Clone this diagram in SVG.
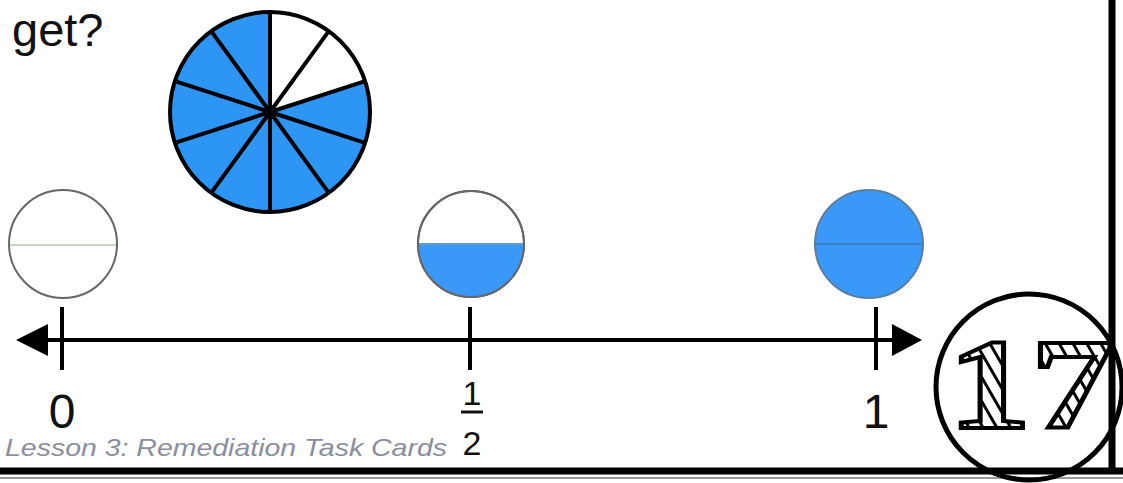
<svg xmlns="http://www.w3.org/2000/svg" width="1123" height="483" viewBox="0 0 1123 483">
<style>
.blk{stroke:#000;fill:none}
.num{font-family:"Liberation Sans",Arial,sans-serif;fill:#111;text-anchor:middle}
.small{stroke:#666;stroke-width:2}
</style>
<defs>
<pattern id="hatch" width="12" height="12" patternUnits="userSpaceOnUse" patternTransform="rotate(-30)">
<rect width="12" height="12" fill="#fff"/>
<line x1="0" y1="0" x2="0" y2="12" stroke="#000" stroke-width="6"/>
</pattern>
</defs>
<rect width="1123" height="483" fill="#fff"/>
<text x="12" y="46" font-family="Liberation Sans, Arial, sans-serif" font-size="47" fill="#111">get?</text>

<g id="pie">
<circle cx="270" cy="112" r="100" fill="#2d96f4"/>
<path d="M270,112 L270,12 A100,100 0 0 1 365.11,81.10 Z" fill="#fff"/>
<g class="blk" stroke-width="4">
<line x1="270" y1="112" x2="270" y2="12"/>
<line x1="270" y1="112" x2="328.78" y2="31.10"/>
<line x1="270" y1="112" x2="365.11" y2="81.10"/>
<line x1="270" y1="112" x2="365.11" y2="142.90"/>
<line x1="270" y1="112" x2="328.78" y2="192.90"/>
<line x1="270" y1="112" x2="270" y2="212"/>
<line x1="270" y1="112" x2="211.22" y2="192.90"/>
<line x1="270" y1="112" x2="174.89" y2="142.90"/>
<line x1="270" y1="112" x2="174.89" y2="81.10"/>
<line x1="270" y1="112" x2="211.22" y2="31.10"/>
<circle cx="270" cy="112" r="100"/>
</g>
<circle cx="270" cy="112" r="7" fill="#000"/>
</g>

<g id="circle-zero">
<circle cx="63" cy="244" r="54" fill="#fff" class="small"/>
<line x1="10" y1="245" x2="116" y2="245" stroke="#c6d8c0" stroke-width="2"/>
</g>
<g id="circle-half">
<circle cx="471" cy="244" r="53" fill="#fff" class="small"/>
<path d="M418,244 A53,53 0 0 0 524,244 Z" fill="#3a98f8"/>
<line x1="418" y1="244" x2="524" y2="244" stroke="#5f9cc8" stroke-width="2"/>
<circle cx="471" cy="244" r="53" fill="none" class="small"/>
</g>
<g id="circle-one">
<circle cx="869" cy="244" r="54" fill="#3a98f8" stroke="#5a7fa0" stroke-width="2"/>
<line x1="815" y1="244" x2="923" y2="244" stroke="#3a80c0" stroke-width="2"/>
</g>

<g id="numberline">
<line x1="40" y1="340" x2="900" y2="340" stroke="#000" stroke-width="4"/>
<polygon points="16,340 48,324 48,356" fill="#000"/>
<polygon points="922,340 892,324 892,356" fill="#000"/>
<line x1="62" y1="307" x2="62" y2="370" stroke="#000" stroke-width="4"/>
<line x1="470" y1="307" x2="470" y2="370" stroke="#000" stroke-width="4"/>
<line x1="876" y1="307" x2="876" y2="370" stroke="#000" stroke-width="4"/>
</g>

<g id="labels">
<text class="num" x="62" y="428" font-size="48">0</text>
<text class="num" x="876" y="428" font-size="48">1</text>
<text class="num" x="472" y="405" font-size="34">1</text>
<line x1="461" y1="412" x2="483" y2="412" stroke="#111" stroke-width="3"/>
<text class="num" x="472" y="455" font-size="34">2</text>
</g>

<text x="5" y="456" font-family="Liberation Sans, Arial, sans-serif" font-style="italic" font-size="24" fill="#8a8e9e" textLength="442" lengthAdjust="spacingAndGlyphs">Lesson 3: Remediation Task Cards</text>

<g id="border">
<line x1="1112" y1="0" x2="1112" y2="474" stroke="#000" stroke-width="7"/>
<line x1="0" y1="471" x2="1123" y2="471" stroke="#000" stroke-width="7"/>
<line x1="0" y1="478" x2="1123" y2="478" stroke="#999" stroke-width="2"/>
</g>

<g id="page-number">
<circle cx="1029" cy="387" r="93" fill="none" stroke="#000" stroke-width="5"/>
<text x="948" y="428" font-family="Liberation Serif, Times New Roman, serif" font-weight="bold" font-size="130" fill="url(#hatch)" stroke="#000" stroke-width="4" textLength="166" lengthAdjust="spacingAndGlyphs">17</text>
</g>
</svg>
